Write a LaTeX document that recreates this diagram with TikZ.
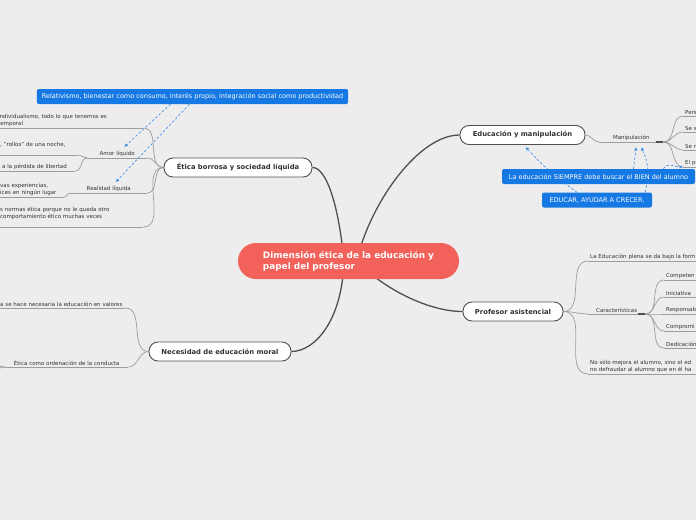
\documentclass[tikz,border=0pt]{standalone}
\usepackage{fontspec}
\setmainfont{DejaVu Sans}
\usetikzlibrary{arrows.meta,positioning,calc}
\definecolor{cbg}{HTML}{EDEDED}
\definecolor{croot}{HTML}{F2625A}
\definecolor{ctopic}{HTML}{505050}
\definecolor{cink}{HTML}{333333}
\definecolor{ctwig}{HTML}{9C9C9C}
\definecolor{cnote}{HTML}{1678E2}
\definecolor{cnoted}{HTML}{4892E6}
\pgfdeclarelayer{back}
\pgfsetlayers{back,main}

\begin{document}
\begin{tikzpicture}[
  x=1pt, y=-1pt,
  root/.style={fill=croot, rounded corners=18pt, minimum width=221pt, minimum height=36pt,
               align=left, text=white, inner sep=0pt, font=\fontsize{8.9}{11}\selectfont\bfseries},
  topic/.style={draw=ctopic, line width=0.9pt, fill=white, rounded corners=9pt,
                minimum width=#1, minimum height=19pt, inner sep=2pt, text=cink,
                font=\fontsize{6.8}{8}\selectfont\bfseries},
  leaf/.style={anchor=south west, text width=#1, align=left, inner xsep=2pt, inner ysep=1.5pt,
               text=cink, font=\fontsize{5.5}{7}\selectfont},
  midleaf/.style={leaf=#1, align=center},
  note/.style={fill=cnote, rounded corners=2pt, minimum width=#1, minimum height=15pt,
               inner xsep=5pt, inner ysep=0pt, text=white, font=\fontsize{6.5}{7.5}\selectfont},
  trunk/.style={draw=ctopic, line width=1.3pt},
  twig/.style={draw=ctwig, line width=0.7pt},
  hint/.style={draw=cnoted, line width=0.7pt, dash pattern=on 2.5pt off 2pt,
               -{Latex[length=3.5pt, width=3.5pt]}},
]
\useasboundingbox (0,0) rectangle (696,520);
\clip (0,0) rectangle (696,520);

% ------------------------------------------------------------ centre
\node[root] (root) at (348.5,261) {Dimensión ética de la educación y\\papel del profesor};

% ------------------------------------------------------------ topics
\node[topic=148pt] (etica) at (238,167.5) {Ética borrosa y sociedad líquida};
\node[topic=125pt] (educ) at (522.5,135) {Educación y manipulación};
\node[topic=100pt] (prof) at (513,311.5) {Profesor asistencial};
\node[topic=142pt] (moral) at (220,351.5) {Necesidad de educación moral};

% ------------------------------------------------------------ etica borrosa
\node[leaf=143pt] (indiv) at (-4,128) {individualismo, todo lo que tenemos es\\temporal};
\node[midleaf=56pt] (amor) at (87,158) {Amor líquido};
\node[leaf=76pt] (rollos) at (-2,155) {, "rollos" de una noche,\\\mbox{}};
\node[leaf=71pt] (libertad) at (0,171) {a la pérdida de libertad};
\node[midleaf=73pt] (realidad) at (70,193) {Realidad líquida};
\node[leaf=62pt] (raices) at (-2,197) {vas experiencias,\\ices en ningún lugar};
\node[leaf=141pt] (normas) at (-2,227) {s normas ética porque no le queda otro\\comportamiento ético muchas veces\\\mbox{}};

% ------------------------------------------------------------ educacion moral
\node[leaf=123pt] (valores) at (-2,308) {a se hace necesaria la educación en valores};
\node[midleaf=119pt] (conducta) at (5,367) {Ética como ordenación de la conducta};
\coordinate (condup) at (-6,330);
\coordinate (conddn) at (-6,405);

% ------------------------------------------------------------ manipulacion
\node[midleaf=60pt] (manip) at (599,142) {Manipulación};
\node[leaf=20pt] (pers) at (683,116) {Pers};
\node[leaf=20pt] (sesa) at (683,132) {Se s};
\node[leaf=20pt] (sere) at (683,150) {Se r};
\node[leaf=20pt] (elpe) at (683,167) {El pe};

% ------------------------------------------------------------ profesor
\node[leaf=120pt] (plena) at (588,261) {La Educación plena se da bajo la form};
\node[midleaf=53pt] (carac) at (588,314) {Características};
\node[leaf=40pt] (compet) at (664,280) {Competen};
\node[leaf=40pt] (inic) at (664,297) {Iniciativa};
\node[leaf=40pt] (resp) at (664,314) {Responsab};
\node[leaf=40pt] (comprom) at (664,331) {Compromi};
\node[leaf=40pt] (dedic) at (664,348) {Dedicación};
\node[leaf=120pt] (mejora) at (588,374) {No sólo mejora el alumno, sino el ed\\no defraudar al alumno que en él ha};

% ------------------------------------------------------------ notes
\node[note=311pt] (rel) at (192.5,96.5) {Relativismo, bienestar como consumo, interés propio, integración social como productividad};
\node[note=193pt] (bien) at (598.5,176.5) {La educación SIEMPRE debe buscar el BIEN del alumno};
\node[note=110pt] (crecer) at (597,200) {EDUCAR, AYUDAR A CRECER.};

\begin{pgfonlayer}{back}
\clip (0,0) rectangle (696,520);
\fill[cbg] (0,0) rectangle (696,520);
% trunks
\draw[trunk] ([xshift=-4.5pt]root.center) .. controls +(-6,-61) and +(13,0) .. (etica.east);
\draw[trunk] ([xshift=-4.5pt]root.center) .. controls +(-2,62) and +(22,0) .. (moral.east);
\draw[trunk] ([xshift=8pt]root.center) .. controls +(15,-61) and +(-40,0) .. (educ.west);
\draw[trunk] ([xshift=8pt]root.center) .. controls +(28.5,29) and +(-33,0) .. (prof.west);
% underlines
\foreach \n in {indiv,amor,rollos,libertad,realidad,raices,normas,valores,conducta,
                manip,pers,sesa,sere,elpe,plena,carac,compet,inic,resp,comprom,dedic,mejora}
  \draw[twig] (\n.south west) -- (\n.south east);
\draw[ctopic, line width=1.6pt] ([xshift=-7pt]manip.south east) -- (manip.south east);
\draw[ctopic, line width=1.6pt] ([xshift=-7pt]carac.south east) -- (carac.south east);
% twigs
\draw[twig] (indiv.south east) to[out=0,in=180] (etica.west);
\draw[twig] (amor.south east) to[out=0,in=180] (etica.west);
\draw[twig] (realidad.south east) to[out=0,in=180] (etica.west);
\draw[twig] (normas.south east) to[out=0,in=180] (etica.west);
\draw[twig] (rollos.south east) to[out=0,in=180] (amor.south west);
\draw[twig] (libertad.south east) to[out=0,in=180] (amor.south west);
\draw[twig] (raices.south east) to[out=0,in=180] (realidad.south west);
\draw[twig] (valores.south east) to[out=0,in=180] (moral.west);
\draw[twig] (conducta.south east) to[out=0,in=180] (moral.west);
\draw[twig] (conducta.south west) to[out=180,in=-90] (condup);
\draw[twig] (conducta.south west) to[out=180,in=90] (conddn);
\draw[twig] (educ.east) to[out=0,in=180] (manip.south west);
\foreach \n in {pers,sesa,sere,elpe}
  \draw[twig] (manip.south east) to[out=0,in=180] (\n.south west);
\draw[twig] (prof.east) to[out=0,in=180] (plena.south west);
\draw[twig] (prof.east) to[out=0,in=180] (carac.south west);
\draw[twig] (prof.east) to[out=0,in=180] (mejora.south west);
\foreach \n in {compet,inic,resp,comprom,dedic}
  \draw[twig] (carac.south east) to[out=0,in=180] (\n.south west);
% notes
\draw[hint] ([xshift=-22pt]rel.south) -- ([xshift=7pt,yshift=2pt]amor.north);
\draw[hint] ([xshift=-3pt]rel.south) -- ([xshift=7pt,yshift=2pt]realidad.north);
\draw[hint] ([xshift=-20pt]crecer.north) to[bend left=6] ([xshift=3pt,yshift=-2pt]educ.south);
\draw[hint] ([xshift=35pt]bien.north) -- ([xshift=5pt,yshift=-5pt]manip.south);
\draw[hint] ([xshift=48pt]crecer.north) to[bend right=20] ([xshift=10pt,yshift=-5pt]manip.south);
\draw[hint] ([xshift=65pt]bien.north) to[out=70,in=180] (elpe.south west);
\end{pgfonlayer}
\end{tikzpicture}
\end{document}
